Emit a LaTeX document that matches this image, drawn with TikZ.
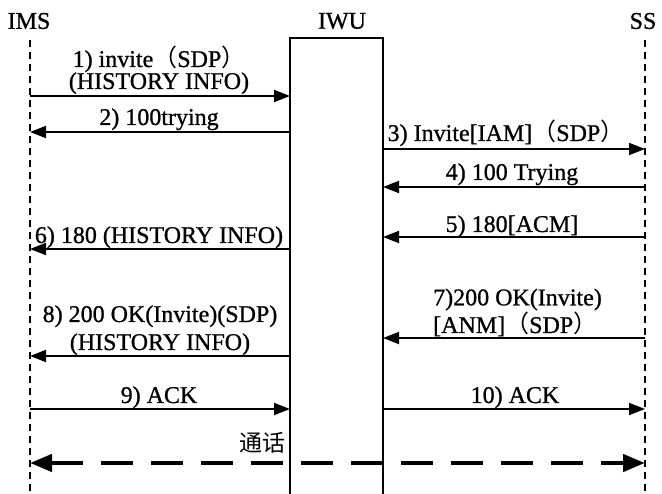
\documentclass[tikz,border=0pt]{standalone}
\usepackage{fontspec}
\setmainfont{Liberation Serif}[FakeBold=0.9]
\newfontfamily\cjk{Noto Sans CJK SC}
\usetikzlibrary{arrows.meta}

\tikzset{
  lifeline/.style={line width=1.5pt, dash pattern=on 7pt off 5pt},
  ent/.style={font=\fontsize{24}{24}\selectfont, inner sep=0pt},
  msg/.style={line width=1.8pt, -{Triangle[length=16pt,width=12pt]}},
  lbl/.style={font=\fontsize{24}{22}\selectfont, inner sep=0pt, anchor=base, align=center},
  talk/.style={line width=4.5pt, dash pattern=on 32pt off 18pt,
    {Triangle[length=22pt,width=17pt]}-{Triangle[length=22pt,width=17pt]}},
  unitbox/.style={line width=2pt}
}

\begin{document}
\begin{tikzpicture}[x=1pt,y=-1pt]
\useasboundingbox (0,0) rectangle (662,494);

% entity names
\node[ent] (ims) at (29,21) {IMS};
\node[ent] (iwu) at (342,21) {IWU};
\node[ent] (ss)  at (643,21) {SS};

% lifelines and the IWU unit
\coordinate (imsTop) at (30,40);  \coordinate (imsBot) at (30,494);
\coordinate (ssTop)  at (645,40); \coordinate (ssBot)  at (645,494);
\draw[lifeline] (imsTop) -- (imsBot);
\draw[lifeline] (ssTop) -- (ssBot);
\coordinate (boxBL) at (290,494); \coordinate (boxTL) at (290,38);
\coordinate (boxTR) at (383,38);  \coordinate (boxBR) at (383,494);
\draw[unitbox] (boxBL) -- (boxTL) -- (boxTR) -- (boxBR);

% message end points
\foreach \n/\y in {1/96,2/132,3/149,4/187,5/237,6/249,7/338,8/356,9/409,10/409,11/463}{
  \coordinate (a\n) at (30,\y);
  \coordinate (l\n) at (290,\y);
  \coordinate (r\n) at (383,\y);
  \coordinate (b\n) at (645,\y);
}

% messages
\draw[msg] (a1) -- (l1);
\draw[msg] (l2) -- (a2);
\draw[msg] (r3) -- (b3);
\draw[msg] (b4) -- (r4);
\draw[msg] (b5) -- (r5);
\draw[msg] (l6) -- (a6);
\draw[msg] (b7) -- (r7);
\draw[msg] (l8) -- (a8);
\draw[msg] (a9) -- (l9);
\draw[msg] (r10) -- (b10);
\draw[talk] (a11) -- (b11);

% message labels (base = baseline of the last line)
\node[lbl] (t1)  at (159,89) {1) invite{\cjk （}SDP{\cjk ）}\\(HISTORY INFO)};
\node[lbl] (t2)  at (159,125) {2) 100trying};
\node[lbl] (t3)  at (506,141) {3) Invite[IAM]{\cjk （}SDP{\cjk ）}};
\node[lbl] (t4)  at (512,180) {4) 100 Trying};
\node[lbl] (t5)  at (512,232) {5) 180[ACM]};
\node[lbl] (t6)  at (159,243) {6) 180 (HISTORY INFO)};
\node[lbl, align=left, anchor=base west] (t7) at (433,333) {7)200 OK(Invite)\\[1pt][ANM]{\cjk （}SDP{\cjk ）}};
\node[lbl] (t8)  at (160,350) {8) 200 OK(Invite)(SDP)\\[6pt](HISTORY INFO)};
\node[lbl] (t9)  at (159,403) {9) ACK};
\node[lbl] (t10) at (515,403) {10) ACK};
\node[lbl, anchor=base east, font=\cjk\fontsize{23}{23}\selectfont] (t11) at (286,452) {通话};
\end{tikzpicture}
\end{document}
